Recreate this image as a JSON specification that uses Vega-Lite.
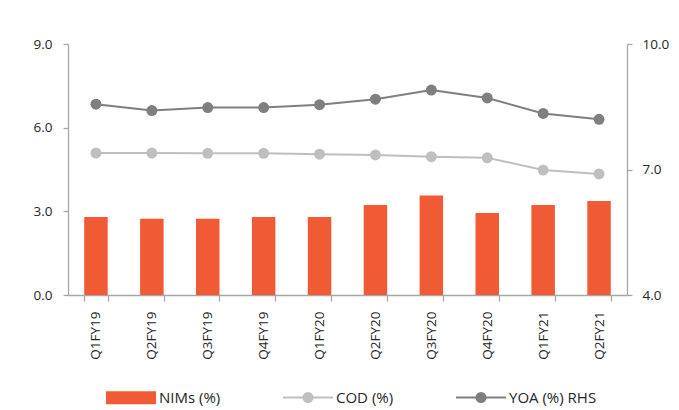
{
  "$schema": "https://vega.github.io/schema/vega-lite/v6.json",
  "width": 559,
  "height": 251,
  "autosize": {"type": "none"},
  "padding": {"left": 68, "top": 44, "right": 52, "bottom": 115},
  "background": "white",
  "config": {
    "view": {"stroke": null},
    "font": "Open Sans",
    "axis": {"domainColor": "#A6A6A6", "tickColor": "#A6A6A6", "labelColor": "#262626", "labelFont": "Open Sans", "labelFontSize": 13.5, "grid": false, "title": null, "domainWidth": 1.3, "tickWidth": 1.3},
    "legend": {"labelFont": "Open Sans", "labelFontSize": 15, "labelColor": "#262626"}
  },
  "data": {"values": [
    {"q": "Q1FY19", "series": "NIMs (%)", "value": 2.80},
    {"q": "Q2FY19", "series": "NIMs (%)", "value": 2.73},
    {"q": "Q3FY19", "series": "NIMs (%)", "value": 2.73},
    {"q": "Q4FY19", "series": "NIMs (%)", "value": 2.80},
    {"q": "Q1FY20", "series": "NIMs (%)", "value": 2.80},
    {"q": "Q2FY20", "series": "NIMs (%)", "value": 3.23},
    {"q": "Q3FY20", "series": "NIMs (%)", "value": 3.57},
    {"q": "Q4FY20", "series": "NIMs (%)", "value": 2.94},
    {"q": "Q1FY21", "series": "NIMs (%)", "value": 3.23},
    {"q": "Q2FY21", "series": "NIMs (%)", "value": 3.37},
    {"q": "Q1FY19", "series": "COD (%)", "value": 5.09},
    {"q": "Q2FY19", "series": "COD (%)", "value": 5.09},
    {"q": "Q3FY19", "series": "COD (%)", "value": 5.08},
    {"q": "Q4FY19", "series": "COD (%)", "value": 5.08},
    {"q": "Q1FY20", "series": "COD (%)", "value": 5.05},
    {"q": "Q2FY20", "series": "COD (%)", "value": 5.02},
    {"q": "Q3FY20", "series": "COD (%)", "value": 4.96},
    {"q": "Q4FY20", "series": "COD (%)", "value": 4.92},
    {"q": "Q1FY21", "series": "COD (%)", "value": 4.48},
    {"q": "Q2FY21", "series": "COD (%)", "value": 4.34},
    {"q": "Q1FY19", "series": "YOA (%) RHS", "value": 8.56},
    {"q": "Q2FY19", "series": "YOA (%) RHS", "value": 8.41},
    {"q": "Q3FY19", "series": "YOA (%) RHS", "value": 8.48},
    {"q": "Q4FY19", "series": "YOA (%) RHS", "value": 8.48},
    {"q": "Q1FY20", "series": "YOA (%) RHS", "value": 8.55},
    {"q": "Q2FY20", "series": "YOA (%) RHS", "value": 8.68},
    {"q": "Q3FY20", "series": "YOA (%) RHS", "value": 8.90},
    {"q": "Q4FY20", "series": "YOA (%) RHS", "value": 8.71},
    {"q": "Q1FY21", "series": "YOA (%) RHS", "value": 8.34},
    {"q": "Q2FY21", "series": "YOA (%) RHS", "value": 8.20}
  ]},
  "encoding": {
    "x": {
      "field": "q", "type": "nominal", "sort": null,
      "scale": {"paddingInner": 0.58, "paddingOuter": 0.29},
      "axis": {"labelAngle": -90, "tickBand": "extent", "tickSize": 6, "labelPadding": 10}
    },
    "color": {
      "field": "series", "type": "nominal",
      "scale": {"domain": ["NIMs (%)", "COD (%)", "YOA (%) RHS"], "range": ["#F05A35", "#BFBFBF", "#7F7F7F"]},
      "legend": {
        "title": null, "orient": "none", "direction": "horizontal", "legendX": 55.5, "legendY": 346,
        "columns": 3, "columnPadding": 58, "labelOffset": 20.5, "symbolSize": 2500,
        "symbolStrokeWidth": 2, "symbolOpacity": 1,
        "encode": {"symbols": {"update": {
          "shape": {"signal": "datum.value === 'NIMs (%)' ? 'M-1,-0.26H1V0.26H-1Z' : 'M-1,0H1M-0.18,0A0.18,0.18 0 1,0 0.18,0A0.18,0.18 0 1,0 -0.18,0Z'"},
          "fill": {"scale": "color", "field": "value"},
          "stroke": {"scale": "color", "field": "value"},
          "strokeWidth": {"signal": "datum.value === 'NIMs (%)' ? 0 : 2"},
          "opacity": {"value": 1}
        }}}
      }
    }
  },
  "layer": [
    {
      "layer": [
        {
          "transform": [{"filter": "datum.series === 'NIMs (%)'"}],
          "mark": {"type": "bar"},
          "encoding": {"y": {"field": "value", "type": "quantitative"}}
        },
        {
          "transform": [{"filter": "datum.series === 'COD (%)'"}],
          "mark": {"type": "line", "strokeWidth": 2},
          "encoding": {"y": {"field": "value", "type": "quantitative"}}
        },
        {
          "transform": [{"filter": "datum.series === 'COD (%)'"}],
          "mark": {"type": "point", "filled": true, "size": 120, "opacity": 1},
          "encoding": {"y": {"field": "value", "type": "quantitative"}}
        }
      ],
      "encoding": {
        "y": {"field": "value", "type": "quantitative",
          "scale": {"domain": [0, 9], "nice": false},
          "axis": {"values": [0, 3, 6, 9], "format": ".1f", "tickSize": 5, "labelPadding": 11, "orient": "left"}}
      }
    },
    {
      "transform": [{"filter": "datum.series === 'YOA (%) RHS'"}],
      "layer": [
        {"mark": {"type": "line", "strokeWidth": 2}, "encoding": {}},
        {"mark": {"type": "point", "filled": true, "size": 120, "opacity": 1}, "encoding": {}}
      ],
      "encoding": {
        "y": {"field": "value", "type": "quantitative",
          "scale": {"domain": [4, 10], "nice": false},
          "axis": {"values": [4, 7, 10], "format": ".1f", "tickSize": 5, "labelPadding": 10, "orient": "right"}}
      }
    }
  ],
  "resolve": {"scale": {"y": "independent"}}
}
